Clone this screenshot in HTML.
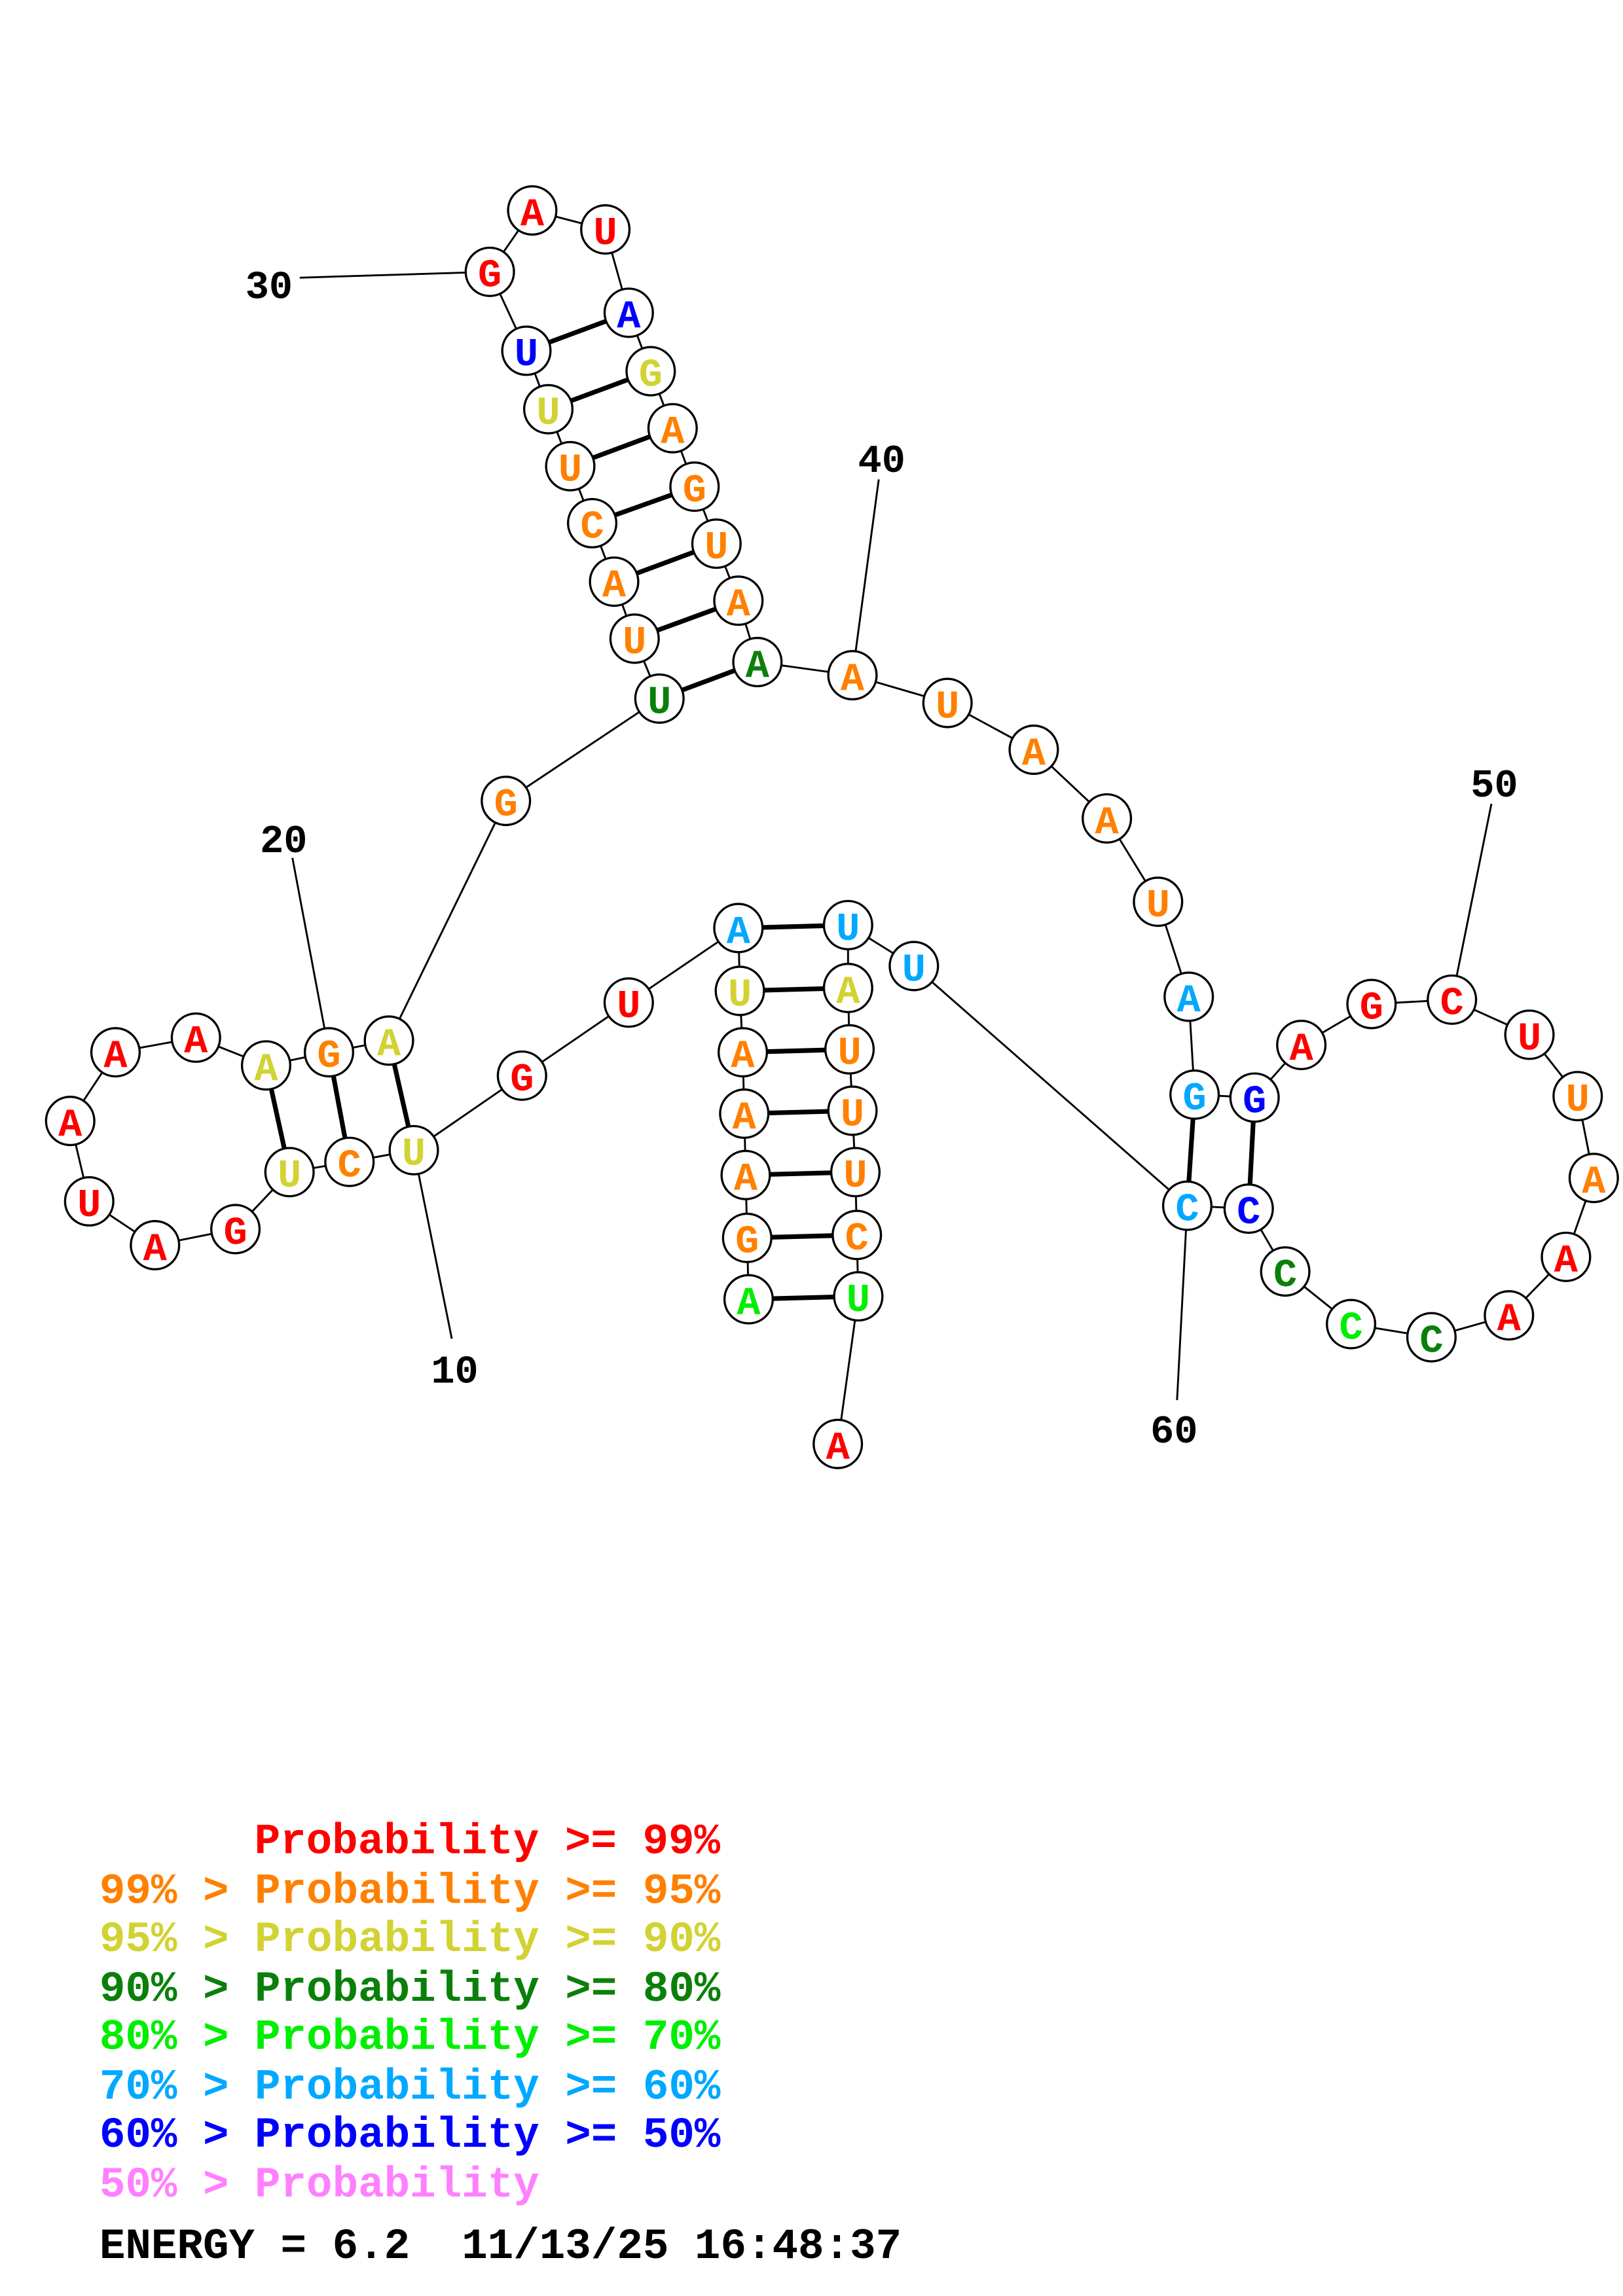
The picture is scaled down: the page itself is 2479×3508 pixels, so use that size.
<!DOCTYPE html>
<html><head><meta charset="utf-8"><style>html,body{margin:0;padding:0;background:#fff}svg{display:block}.pre{white-space:pre}</style></head>
<body>
<svg width="2479" height="3508" viewBox="0 0 1110 1571" preserveAspectRatio="none" xmlns="http://www.w3.org/2000/svg">
<rect width="1110" height="1571" fill="#fff"/>
<g stroke="#000" stroke-width="1.3" fill="none">
<polyline points="512,889 511,847 510,804 509,762 508,720 506,678 505,635 430,686 357,736 283,787 239,795 198,802 161,841 106,852 61,822 48,767 79,720 134,710 182,729 225,720 266,712 346,548 451,478 434,437 420,398 405,358 390,319 375,280 360,240 335,186 364,144 414,157 430,214 445,254 460,293 475,333 490,372 505,411 518,453 583,462 648,481 707,513 757,560 792,617 813,682 817,749 858,751 890,715 938,687 993,684 1046,708 1079,750 1090,806 1071,860 1032,900 979,915 924,906 879,870 854,827 812,825 625,661 580,633 580,676 581,718 583,760 585,802 586,845 587,887 573,988"/>
<line x1="309" y1="916" x2="283" y2="787"/>
<line x1="200" y1="587" x2="225" y2="720"/>
<line x1="205" y1="190" x2="335" y2="186"/>
<line x1="601" y1="328" x2="583" y2="462"/>
<line x1="1020" y1="550" x2="993" y2="684"/>
<line x1="805" y1="958" x2="812" y2="825"/>
</g>
<g stroke="#000" stroke-width="3.2">
<line x1="512" y1="889" x2="587" y2="887"/>
<line x1="511" y1="847" x2="586" y2="845"/>
<line x1="510" y1="804" x2="585" y2="802"/>
<line x1="509" y1="762" x2="583" y2="760"/>
<line x1="508" y1="720" x2="581" y2="718"/>
<line x1="506" y1="678" x2="580" y2="676"/>
<line x1="505" y1="635" x2="580" y2="633"/>
<line x1="182" y1="729" x2="198" y2="802"/>
<line x1="225" y1="720" x2="239" y2="795"/>
<line x1="266" y1="712" x2="283" y2="787"/>
<line x1="451" y1="478" x2="518" y2="453"/>
<line x1="434" y1="437" x2="505" y2="411"/>
<line x1="420" y1="398" x2="490" y2="372"/>
<line x1="405" y1="358" x2="475" y2="333"/>
<line x1="390" y1="319" x2="460" y2="293"/>
<line x1="375" y1="280" x2="445" y2="254"/>
<line x1="360" y1="240" x2="430" y2="214"/>
<line x1="817" y1="749" x2="812" y2="825"/>
<line x1="858" y1="751" x2="854" y2="827"/>
</g>
<g fill="#fff" stroke="#000" stroke-width="1.5">
<circle cx="512" cy="889" r="16.5"/><circle cx="511" cy="847" r="16.5"/><circle cx="510" cy="804" r="16.5"/><circle cx="509" cy="762" r="16.5"/><circle cx="508" cy="720" r="16.5"/><circle cx="506" cy="678" r="16.5"/><circle cx="505" cy="635" r="16.5"/><circle cx="430" cy="686" r="16.5"/><circle cx="357" cy="736" r="16.5"/><circle cx="283" cy="787" r="16.5"/>
<circle cx="239" cy="795" r="16.5"/><circle cx="198" cy="802" r="16.5"/><circle cx="161" cy="841" r="16.5"/><circle cx="106" cy="852" r="16.5"/><circle cx="61" cy="822" r="16.5"/><circle cx="48" cy="767" r="16.5"/><circle cx="79" cy="720" r="16.5"/><circle cx="134" cy="710" r="16.5"/><circle cx="182" cy="729" r="16.5"/><circle cx="225" cy="720" r="16.5"/>
<circle cx="266" cy="712" r="16.5"/><circle cx="346" cy="548" r="16.5"/><circle cx="451" cy="478" r="16.5"/><circle cx="434" cy="437" r="16.5"/><circle cx="420" cy="398" r="16.5"/><circle cx="405" cy="358" r="16.5"/><circle cx="390" cy="319" r="16.5"/><circle cx="375" cy="280" r="16.5"/><circle cx="360" cy="240" r="16.5"/><circle cx="335" cy="186" r="16.5"/>
<circle cx="364" cy="144" r="16.5"/><circle cx="414" cy="157" r="16.5"/><circle cx="430" cy="214" r="16.5"/><circle cx="445" cy="254" r="16.5"/><circle cx="460" cy="293" r="16.5"/><circle cx="475" cy="333" r="16.5"/><circle cx="490" cy="372" r="16.5"/><circle cx="505" cy="411" r="16.5"/><circle cx="518" cy="453" r="16.5"/><circle cx="583" cy="462" r="16.5"/>
<circle cx="648" cy="481" r="16.5"/><circle cx="707" cy="513" r="16.5"/><circle cx="757" cy="560" r="16.5"/><circle cx="792" cy="617" r="16.5"/><circle cx="813" cy="682" r="16.5"/><circle cx="817" cy="749" r="16.5"/><circle cx="858" cy="751" r="16.5"/><circle cx="890" cy="715" r="16.5"/><circle cx="938" cy="687" r="16.5"/><circle cx="993" cy="684" r="16.5"/>
<circle cx="1046" cy="708" r="16.5"/><circle cx="1079" cy="750" r="16.5"/><circle cx="1090" cy="806" r="16.5"/><circle cx="1071" cy="860" r="16.5"/><circle cx="1032" cy="900" r="16.5"/><circle cx="979" cy="915" r="16.5"/><circle cx="924" cy="906" r="16.5"/><circle cx="879" cy="870" r="16.5"/><circle cx="854" cy="827" r="16.5"/><circle cx="812" cy="825" r="16.5"/>
<circle cx="625" cy="661" r="16.5"/><circle cx="580" cy="633" r="16.5"/><circle cx="580" cy="676" r="16.5"/><circle cx="581" cy="718" r="16.5"/><circle cx="583" cy="760" r="16.5"/><circle cx="585" cy="802" r="16.5"/><circle cx="586" cy="845" r="16.5"/><circle cx="587" cy="887" r="16.5"/><circle cx="573" cy="988" r="16.5"/>
</g>
<g font-family="'Liberation Mono', monospace" font-weight="bold" font-size="27" text-anchor="middle">
<text x="512" y="899" fill="#00ee00">A</text><text x="511" y="857" fill="#ff8000">G</text><text x="510" y="814" fill="#ff8000">A</text><text x="509" y="772" fill="#ff8000">A</text><text x="508" y="730" fill="#ff8000">A</text><text x="506" y="688" fill="#d2d232">U</text><text x="505" y="645" fill="#00a8ff">A</text><text x="430" y="696" fill="#ff0000">U</text><text x="357" y="746" fill="#ff0000">G</text><text x="283" y="797" fill="#d2d232">U</text>
<text x="239" y="805" fill="#ff8000">C</text><text x="198" y="812" fill="#d2d232">U</text><text x="161" y="851" fill="#ff0000">G</text><text x="106" y="862" fill="#ff0000">A</text><text x="61" y="832" fill="#ff0000">U</text><text x="48" y="777" fill="#ff0000">A</text><text x="79" y="730" fill="#ff0000">A</text><text x="134" y="720" fill="#ff0000">A</text><text x="182" y="739" fill="#d2d232">A</text><text x="225" y="730" fill="#ff8000">G</text>
<text x="266" y="722" fill="#d2d232">A</text><text x="346" y="558" fill="#ff8000">G</text><text x="451" y="488" fill="#0a800a">U</text><text x="434" y="447" fill="#ff8000">U</text><text x="420" y="408" fill="#ff8000">A</text><text x="405" y="368" fill="#ff8000">C</text><text x="390" y="329" fill="#ff8000">U</text><text x="375" y="290" fill="#d2d232">U</text><text x="360" y="250" fill="#0000ff">U</text><text x="335" y="196" fill="#ff0000">G</text>
<text x="364" y="154" fill="#ff0000">A</text><text x="414" y="167" fill="#ff0000">U</text><text x="430" y="224" fill="#0000ff">A</text><text x="445" y="264" fill="#d2d232">G</text><text x="460" y="303" fill="#ff8000">A</text><text x="475" y="343" fill="#ff8000">G</text><text x="490" y="382" fill="#ff8000">U</text><text x="505" y="421" fill="#ff8000">A</text><text x="518" y="463" fill="#0a800a">A</text><text x="583" y="472" fill="#ff8000">A</text>
<text x="648" y="491" fill="#ff8000">U</text><text x="707" y="523" fill="#ff8000">A</text><text x="757" y="570" fill="#ff8000">A</text><text x="792" y="627" fill="#ff8000">U</text><text x="813" y="692" fill="#00a8ff">A</text><text x="817" y="759" fill="#00a8ff">G</text><text x="858" y="761" fill="#0000ff">G</text><text x="890" y="725" fill="#ff0000">A</text><text x="938" y="697" fill="#ff0000">G</text><text x="993" y="694" fill="#ff0000">C</text>
<text x="1046" y="718" fill="#ff0000">U</text><text x="1079" y="760" fill="#ff8000">U</text><text x="1090" y="816" fill="#ff8000">A</text><text x="1071" y="870" fill="#ff0000">A</text><text x="1032" y="910" fill="#ff0000">A</text><text x="979" y="925" fill="#0a800a">C</text><text x="924" y="916" fill="#00ee00">C</text><text x="879" y="880" fill="#0a800a">C</text><text x="854" y="837" fill="#0000ff">C</text><text x="812" y="835" fill="#00a8ff">C</text>
<text x="625" y="671" fill="#00a8ff">U</text><text x="580" y="643" fill="#00a8ff">U</text><text x="580" y="686" fill="#d2d232">A</text><text x="581" y="728" fill="#ff8000">U</text><text x="583" y="770" fill="#ff8000">U</text><text x="585" y="812" fill="#ff8000">U</text><text x="586" y="855" fill="#ff8000">C</text><text x="587" y="897" fill="#00ee00">U</text><text x="573" y="998" fill="#ff0000">A</text>
</g>
<g font-family="'Liberation Mono', monospace" font-weight="bold" font-size="27" text-anchor="middle" fill="#000">
<text x="311" y="946">10</text><text x="194" y="583">20</text><text x="184" y="204">30</text><text x="603" y="323">40</text><text x="1022" y="545">50</text><text x="803" y="987">60</text>
</g>
<g font-family="'Liberation Mono', monospace" font-weight="bold" font-size="29.5">
<text x="174" y="1268" fill="#ff0000">Probability &gt;= 99%</text>
<text x="68" y="1302" fill="#ff8000">99% &gt; Probability &gt;= 95%</text>
<text x="68" y="1335" fill="#d2d232">95% &gt; Probability &gt;= 90%</text>
<text x="68" y="1369" fill="#0a800a">90% &gt; Probability &gt;= 80%</text>
<text x="68" y="1402" fill="#00ee00">80% &gt; Probability &gt;= 70%</text>
<text x="68" y="1436" fill="#00a8ff">70% &gt; Probability &gt;= 60%</text>
<text x="68" y="1469" fill="#0000ff">60% &gt; Probability &gt;= 50%</text>
<text x="68" y="1503" fill="#ff80ff">50% &gt; Probability</text>
<text x="68" y="1545" fill="#000" class="pre">ENERGY = 6.2  11/13/25 16:48:37</text>
</g>
</svg>
</body></html>
